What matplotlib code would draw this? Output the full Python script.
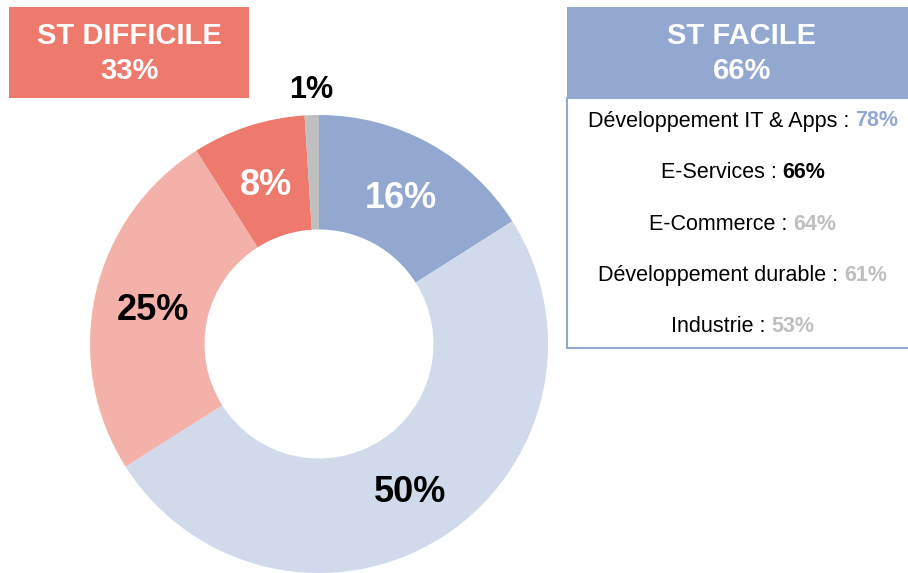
import matplotlib.pyplot as plt
import numpy as np
from matplotlib.patches import Rectangle

plt.rcParams['font.family'] = ['Liberation Sans', 'DejaVu Sans']

# donut data
slice_values = [16, 50, 25, 8, 1]
slice_colors = ['#92A8D1', '#D0DAEA', '#F4B1AA', '#EE7A6E', '#BFBFBF']
label_colors = ['white', 'black', 'black', 'white', 'black']

# side boxes
difficile_title = 'ST DIFFICILE'
difficile_pct = '33%'
facile_title = 'ST FACILE'
facile_pct = '66%'
sectors = ['Développement IT & Apps', 'E-Services', 'E-Commerce',
           'Développement durable', 'Industrie']
sector_pcts = ['78%', '66%', '64%', '61%', '53%']
sector_pct_colors = ['#92A8D1', 'black', '#BFBFBF', '#BFBFBF', '#BFBFBF']

W, H = 908, 573
fig = plt.figure(figsize=(W / 100, H / 100), dpi=100)


def fx(px):
    return px / W


def fy(py):
    return 1 - py / H


# donut centred at (319, 344) px, radius 229 px
cx, cy, R = 319, 344, 229
ax = fig.add_axes([fx(cx - R), fy(cy + R), 2 * R / W, 2 * R / H])
wedges, _ = ax.pie(slice_values, colors=slice_colors, startangle=90, counterclock=False,
                   radius=1, wedgeprops=dict(width=0.5, edgecolor='none'))
ax.set_xlim(-1, 1)
ax.set_ylim(-1, 1)
ax.set_aspect('equal')
ax.axis('off')

for w, v, c in zip(wedges, slice_values, label_colors):
    ang = np.deg2rad((w.theta1 + w.theta2) / 2)
    if v < 3:
        r, fs = 1.13, 22
    else:
        r, fs = 0.745, 26
    ax.annotate(f'{v}%', (r * np.cos(ang), r * np.sin(ang)), xytext=(0, -3),
                textcoords='offset points', ha='center', va='center',
                fontsize=fs, fontweight='bold', color=c, annotation_clip=False)

# red box
fig.patches.append(Rectangle((fx(9), fy(98)), fx(240), 91 / H, transform=fig.transFigure,
                             facecolor='#EE7A6E', edgecolor='none'))
fig.text(fx(129), fy(36), difficile_title, ha='center', va='center', fontsize=21,
         fontweight='bold', color='white')
fig.text(fx(129), fy(71), difficile_pct, ha='center', va='center', fontsize=21,
         fontweight='bold', color='white')

# blue box + white list box
fig.patches.append(Rectangle((fx(567), fy(98)), fx(350), 91 / H, transform=fig.transFigure,
                             facecolor='#92A8D1', edgecolor='none'))
fig.patches.append(Rectangle((fx(567), fy(348)), fx(350), 250 / H, transform=fig.transFigure,
                             facecolor='white', edgecolor='#92A8D1', linewidth=1.5))
fig.text(fx(742), fy(36), facile_title, ha='center', va='center', fontsize=21,
         fontweight='bold', color='white')
fig.text(fx(742), fy(71), facile_pct, ha='center', va='center', fontsize=21,
         fontweight='bold', color='white')

renderer = fig.canvas.get_renderer()
row_y = [121, 173, 224, 275, 326]
for name, pct, col, y in zip(sectors, sector_pcts, sector_pct_colors, row_y):
    t1 = fig.text(0, fy(y), name + ' : ', ha='left', va='center', fontsize=15.5, color='black')
    t2 = fig.text(0, fy(y), pct, ha='left', va='center', fontsize=15.5, fontweight='bold', color=col)
    w1 = t1.get_window_extent(renderer).width
    w2 = t2.get_window_extent(renderer).width
    x0 = 743 - (w1 + w2) / 2
    t1.set_x(fx(x0))
    t2.set_x(fx(x0 + w1))

fig.savefig('out.png', dpi=100)
